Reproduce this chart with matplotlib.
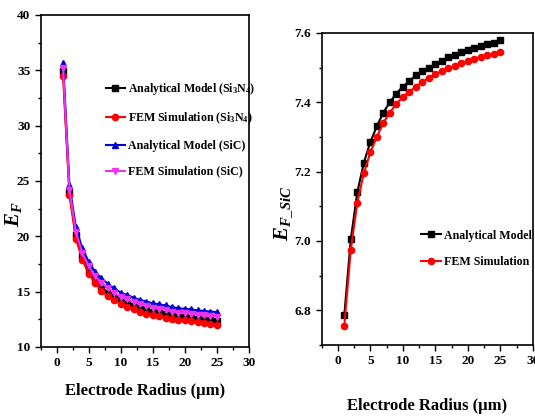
import numpy as np
import matplotlib.pyplot as plt
from matplotlib.ticker import MultipleLocator

plt.rcParams['font.family'] = 'Liberation Serif'
plt.rcParams['font.weight'] = 'bold'
plt.rcParams['axes.labelweight'] = 'bold'
plt.rcParams['mathtext.fontset'] = 'custom'
plt.rcParams['mathtext.it'] = 'Liberation Serif:italic:bold'
plt.rcParams['mathtext.rm'] = 'Liberation Serif:bold'
plt.rcParams['mathtext.bf'] = 'Liberation Serif:bold'

radius = np.arange(1, 26)

# left panel: E_F for two dielectrics
ana_si3n4 = [34.9, 24.0, 20.1, 18.2, 16.9, 16.1, 15.4, 14.9, 14.5, 14.2, 13.9, 13.7,
             13.5, 13.3, 13.2, 13.1, 12.95, 12.85, 12.75, 12.7, 12.6, 12.55, 12.45, 12.4, 12.3]
fem_si3n4 = [34.5, 23.7, 19.8, 17.9, 16.6, 15.8, 15.1, 14.6, 14.2, 13.9, 13.6, 13.4,
             13.2, 13.0, 12.9, 12.8, 12.65, 12.55, 12.45, 12.4, 12.3, 12.25, 12.15, 12.1, 12.0]
ana_sic = [35.7, 24.6, 20.8, 18.9, 17.7, 16.8, 16.2, 15.7, 15.3, 14.9, 14.7, 14.45,
           14.25, 14.1, 13.95, 13.85, 13.75, 13.6, 13.5, 13.45, 13.4, 13.3, 13.25, 13.2, 13.15]
fem_sic = [35.2, 24.2, 20.4, 18.5, 17.3, 16.4, 15.8, 15.3, 14.9, 14.5, 14.3, 14.05,
           13.85, 13.7, 13.55, 13.45, 13.35, 13.2, 13.1, 13.05, 13.0, 12.9, 12.85, 12.8, 12.75]

# right panel: E_F_SiC
ana_r = [6.785, 7.005, 7.14, 7.225, 7.285, 7.33, 7.37, 7.40, 7.425, 7.445, 7.46, 7.478,
         7.49, 7.50, 7.51, 7.52, 7.53, 7.535, 7.545, 7.55, 7.555, 7.562, 7.568, 7.572, 7.578]
fem_r = [6.755, 6.975, 7.11, 7.195, 7.255, 7.30, 7.34, 7.37, 7.395, 7.415, 7.43, 7.445,
         7.458, 7.47, 7.48, 7.49, 7.498, 7.505, 7.512, 7.518, 7.524, 7.53, 7.535, 7.54, 7.545]

fig = plt.figure(figsize=(5.35, 4.16), dpi=100)
ax1 = fig.add_axes([0.076, 0.166, 0.389, 0.798])
ax2 = fig.add_axes([0.601, 0.171, 0.395, 0.750])

ms = 4.5
ax1.plot(radius, ana_si3n4, '-s', color='black', ms=ms, lw=1.5, label=r'Analytical Model (Si$_3$N$_4$)')
ax1.plot(radius, fem_si3n4, '-o', color='red', ms=ms, lw=1.5, label=r'FEM Simulation (Si$_3$N$_4$)')
ax1.plot(radius, ana_sic, '-^', color='#0000dd', ms=ms + 0.5, lw=1.5, label='Analytical Model (SiC)')
ax1.plot(radius, fem_sic, '-v', color='#ee33ee', ms=ms + 0.5, lw=1.5, label='FEM Simulation (SiC)')
ax1.set_xlim(-2.5, 30)
ax1.set_ylim(10, 40)
ax1.set_ylabel(r'$E_F$', fontsize=15)
ax1.yaxis.set_label_coords(-0.08, 0.40)
ax1.set_xlabel('Electrode Radius (μm)', fontsize=12)
ax1.xaxis.set_label_coords(0.5, -0.11)
ax1.legend(loc='upper left', bbox_to_anchor=(0.29, 0.815), frameon=False, fontsize=8.6,
           handlelength=1.6, handletextpad=0.3, labelspacing=1.15, borderaxespad=0)

ax2.plot(radius, ana_r, '-s', color='black', ms=ms, lw=1.5, label='Analytical Model')
ax2.plot(radius, fem_r, '-o', color='red', ms=ms, lw=1.5, label='FEM Simulation')
ax2.set_xlim(-2.5, 30)
ax2.set_ylim(6.7, 7.6)
ax2.set_ylabel(r'$E_{F\_SiC}$', fontsize=15)
ax2.yaxis.set_label_coords(-0.13, 0.42)
ax2.set_xlabel('Electrode Radius (μm)', fontsize=12)
ax2.xaxis.set_label_coords(0.5, -0.17)
ax2.legend(loc='upper left', bbox_to_anchor=(0.45, 0.385), frameon=False, fontsize=8.6,
           handlelength=1.6, handletextpad=0.3, labelspacing=1.2, borderaxespad=0)

for ax, ymaj, ymin in [(ax1, 5, 2.5), (ax2, 0.2, 0.1)]:
    ax.xaxis.set_major_locator(MultipleLocator(5))
    ax.xaxis.set_minor_locator(MultipleLocator(2.5))
    ax.yaxis.set_major_locator(MultipleLocator(ymaj))
    ax.yaxis.set_minor_locator(MultipleLocator(ymin))
    ax.tick_params(which='major', length=4, width=1, labelsize=9.5, pad=3.5)
    ax.tick_params(which='minor', length=2, width=1)
    for s in ax.spines.values():
        s.set_linewidth(1.2)
    for lab in ax.get_xticklabels() + ax.get_yticklabels():
        lab.set_fontweight('bold')

fig.savefig('out.png', dpi=100)
